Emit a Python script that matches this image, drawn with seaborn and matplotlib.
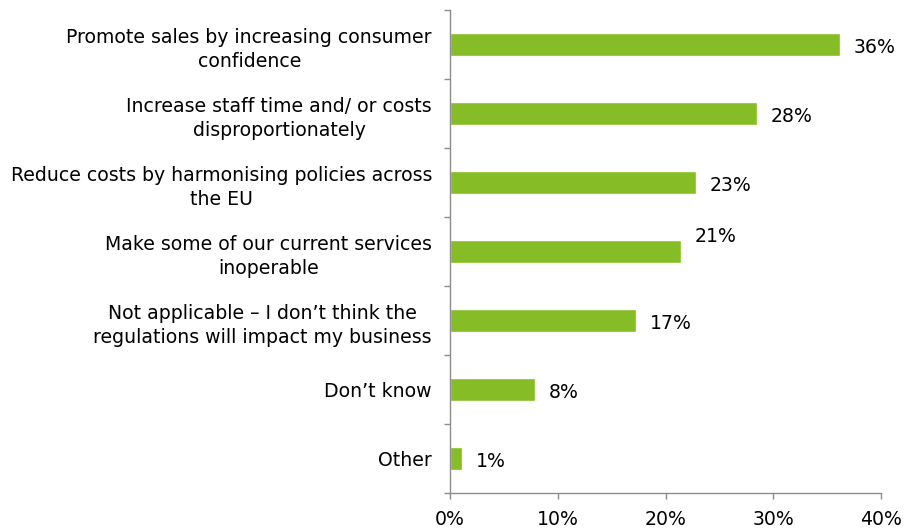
import matplotlib
matplotlib.use("Agg")
import matplotlib.pyplot as plt
import seaborn as sns
import pandas as pd
from matplotlib.ticker import PercentFormatter

categories = [
    "Promote sales by increasing consumer\nconfidence",
    "Increase staff time and/ or costs\ndisproportionately",
    "Reduce costs by harmonising policies across\nthe EU",
    "Make some of our current services\ninoperable",
    "Not applicable \u2013 I don\u2019t think the\nregulations will impact my business",
    "Don\u2019t know",
    "Other",
]
shares = [36.2, 28.5, 22.8, 21.4, 17.3, 7.9, 1.1]
labels = ["36%", "28%", "23%", "21%", "17%", "8%", "1%"]
x_ticks = [0, 10, 20, 30, 40]

df = pd.DataFrame({"category": categories, "share": shares})

sns.set_style("white")
plt.rcParams["font.family"] = ["DejaVu Sans"]
plt.rcParams["text.color"] = "black"
plt.rcParams["xtick.color"] = "black"
plt.rcParams["ytick.color"] = "black"

FS = 13.6
AXIS_GREY = "#8c8c8c"

fig = plt.figure(figsize=(9.07, 5.29), dpi=100)
ax = fig.add_axes([450 / 907, 1 - 493 / 529, 431 / 907, 483 / 529])

sns.barplot(data=df, x="share", y="category", color="#86BC25",
            width=0.34, saturation=1, ax=ax, orient="h")

ax.set_xlim(0, 40)
ax.set_ylim(len(categories) - 0.5, -0.5)
ax.set_xticks(x_ticks)
ax.xaxis.set_major_formatter(PercentFormatter(decimals=0))
ax.set_xlabel("")
ax.set_ylabel("")

# category ticks sit on the boundaries between bars
ax.set_yticks(range(len(categories)))
ax.set_yticklabels(categories, fontsize=FS, ha="right", multialignment="center",
                   linespacing=1.35)
ax.set_yticks([i - 0.5 for i in range(len(categories) + 1)], minor=True)
ax.tick_params(axis="y", which="major", left=False, length=0, pad=13)
ax.tick_params(axis="y", which="minor", left=True, length=4.5, width=1,
               color=AXIS_GREY, direction="out")
ax.tick_params(axis="x", bottom=True, length=4.5, width=1, color=AXIS_GREY,
               direction="out", labelsize=FS, pad=7.5)

for side in ("top", "right"):
    ax.spines[side].set_visible(False)
for side in ("left", "bottom"):
    ax.spines[side].set_color(AXIS_GREY)
    ax.spines[side].set_linewidth(1)

# value labels beside each bar
nudge = {3: 13}
for i, (v, lab) in enumerate(zip(shares, labels)):
    ax.annotate(lab, xy=(v, i), xytext=(10, -2 + nudge.get(i, 0)),
                textcoords="offset points", va="center", ha="left", fontsize=FS)

fig.savefig("out.png", dpi=100)
